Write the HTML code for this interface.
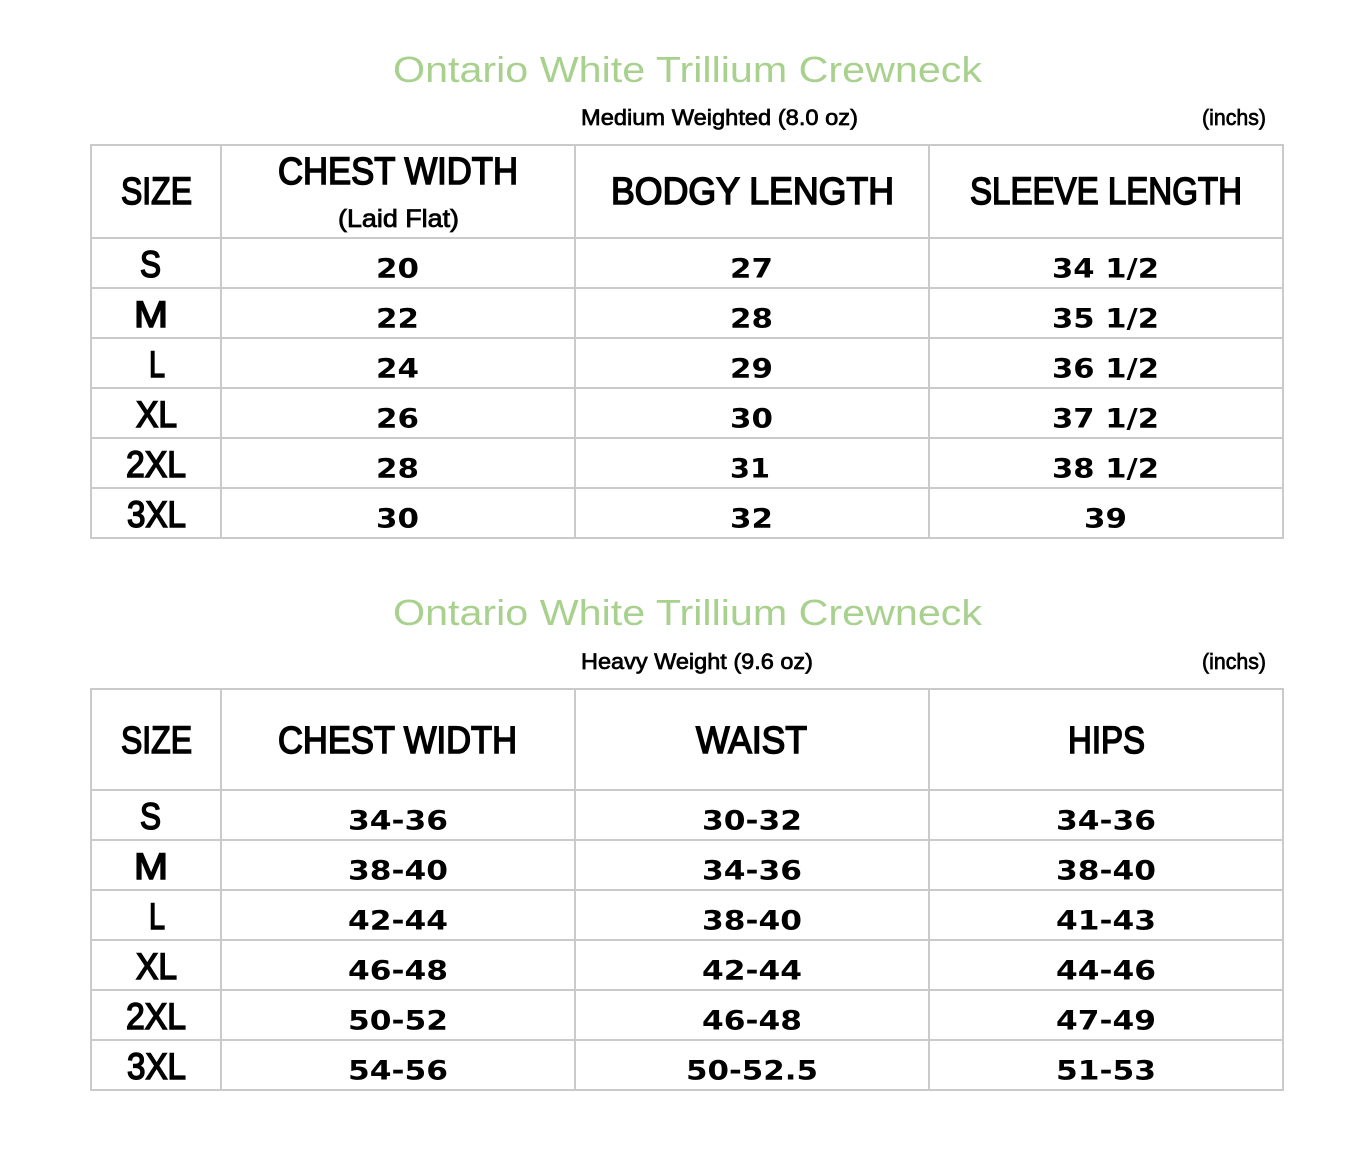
<!DOCTYPE html>
<html>
<head>
<meta charset="utf-8">
<style>
  html, body { margin:0; padding:0; background:#fff; }
  svg { display:block; }
  .title { font-family:"Liberation Sans", sans-serif; font-size:36px; fill:#a9d18e; }
  .sub { font-family:"Liberation Sans", sans-serif; font-size:22px; fill:#000; stroke:#000; stroke-width:0.7px; }
  .hd { font-family:"Liberation Sans", sans-serif; font-size:38px; fill:#000; stroke:#000; stroke-width:1.6px; }
  .hds { font-family:"Liberation Sans", sans-serif; font-size:25px; fill:#000; stroke:#000; stroke-width:0.8px; }
  .sz { font-family:"Liberation Sans", sans-serif; font-size:37px; fill:#000; stroke:#000; stroke-width:1.6px; }
  .num { font-family:"DejaVu Sans", "Liberation Sans", sans-serif; font-weight:bold; font-size:26.5px; fill:#000; }
  .ln { stroke:#cacaca; stroke-width:2; }
</style>
</head>
<body>
<svg width="1372" height="1172" viewBox="0 0 1372 1172" xmlns="http://www.w3.org/2000/svg">
  <rect width="1372" height="1172" fill="#fff"/>

  <!-- ================= TABLE 1 ================= -->
  <text class="title" x="393" y="82" textLength="589" lengthAdjust="spacingAndGlyphs">Ontario White Trillium Crewneck</text>
  <text class="sub" x="581" y="125" textLength="277" lengthAdjust="spacingAndGlyphs">Medium Weighted (8.0 oz)</text>
  <text class="sub" x="1202" y="125" textLength="64" lengthAdjust="spacingAndGlyphs">(inchs)</text>

  <!-- grid -->
  <g class="ln">
    <line x1="90" y1="145" x2="1284" y2="145"/>
    <line x1="90" y1="238" x2="1284" y2="238"/>
    <line x1="90" y1="288" x2="1284" y2="288"/>
    <line x1="90" y1="338" x2="1284" y2="338"/>
    <line x1="90" y1="388" x2="1284" y2="388"/>
    <line x1="90" y1="438" x2="1284" y2="438"/>
    <line x1="90" y1="488" x2="1284" y2="488"/>
    <line x1="90" y1="538" x2="1284" y2="538"/>
    <line x1="91" y1="144" x2="91" y2="539"/>
    <line x1="221" y1="144" x2="221" y2="539"/>
    <line x1="575" y1="144" x2="575" y2="539"/>
    <line x1="929" y1="144" x2="929" y2="539"/>
    <line x1="1283" y1="144" x2="1283" y2="539"/>
  </g>

  <!-- headers -->
  <text class="hd" x="121" y="204" textLength="71" lengthAdjust="spacingAndGlyphs">SIZE</text>
  <text class="hd" x="278" y="184" textLength="240" lengthAdjust="spacingAndGlyphs">CHEST WIDTH</text>
  <text class="hds" x="338" y="227" textLength="121" lengthAdjust="spacingAndGlyphs">(Laid Flat)</text>
  <text class="hd" x="611" y="204" textLength="283" lengthAdjust="spacingAndGlyphs">BODGY LENGTH</text>
  <text class="hd" x="970" y="204" textLength="272" lengthAdjust="spacingAndGlyphs">SLEEVE LENGTH</text>

  <!-- size column -->
  <text class="sz" x="140" y="277" textLength="21" lengthAdjust="spacingAndGlyphs">S</text>
  <text class="sz" x="134" y="327" textLength="34" lengthAdjust="spacingAndGlyphs">M</text>
  <text class="sz" x="149" y="377" textLength="16" lengthAdjust="spacingAndGlyphs">L</text>
  <text class="sz" x="136" y="427" textLength="41" lengthAdjust="spacingAndGlyphs">XL</text>
  <text class="sz" x="126" y="477" textLength="60" lengthAdjust="spacingAndGlyphs">2XL</text>
  <text class="sz" x="127" y="527" textLength="59" lengthAdjust="spacingAndGlyphs">3XL</text>

  <!-- col2 -->
  <text class="num" x="376" y="277.5" textLength="43" lengthAdjust="spacingAndGlyphs">20</text>
  <text class="num" x="376" y="327.5" textLength="43" lengthAdjust="spacingAndGlyphs">22</text>
  <text class="num" x="376" y="377.5" textLength="43" lengthAdjust="spacingAndGlyphs">24</text>
  <text class="num" x="376" y="427.5" textLength="43" lengthAdjust="spacingAndGlyphs">26</text>
  <text class="num" x="376" y="477.5" textLength="43" lengthAdjust="spacingAndGlyphs">28</text>
  <text class="num" x="376" y="527.5" textLength="43" lengthAdjust="spacingAndGlyphs">30</text>
  <!-- col3 -->
  <text class="num" x="730" y="277.5" textLength="43" lengthAdjust="spacingAndGlyphs">27</text>
  <text class="num" x="730" y="327.5" textLength="43" lengthAdjust="spacingAndGlyphs">28</text>
  <text class="num" x="730" y="377.5" textLength="43" lengthAdjust="spacingAndGlyphs">29</text>
  <text class="num" x="730" y="427.5" textLength="43" lengthAdjust="spacingAndGlyphs">30</text>
  <text class="num" x="730" y="477.5" textLength="40" lengthAdjust="spacingAndGlyphs">31</text>
  <text class="num" x="730" y="527.5" textLength="43" lengthAdjust="spacingAndGlyphs">32</text>
  <!-- col4 -->
  <text class="num" x="1052" y="277.5" textLength="107" lengthAdjust="spacingAndGlyphs">34 1/2</text>
  <text class="num" x="1052" y="327.5" textLength="107" lengthAdjust="spacingAndGlyphs">35 1/2</text>
  <text class="num" x="1052" y="377.5" textLength="107" lengthAdjust="spacingAndGlyphs">36 1/2</text>
  <text class="num" x="1052" y="427.5" textLength="107" lengthAdjust="spacingAndGlyphs">37 1/2</text>
  <text class="num" x="1052" y="477.5" textLength="107" lengthAdjust="spacingAndGlyphs">38 1/2</text>
  <text class="num" x="1084" y="527.5" textLength="43" lengthAdjust="spacingAndGlyphs">39</text>

  <!-- ================= TABLE 2 ================= -->
  <text class="title" x="393" y="625" textLength="589" lengthAdjust="spacingAndGlyphs">Ontario White Trillium Crewneck</text>
  <text class="sub" x="581" y="669" textLength="232" lengthAdjust="spacingAndGlyphs">Heavy Weight (9.6 oz)</text>
  <text class="sub" x="1202" y="669" textLength="64" lengthAdjust="spacingAndGlyphs">(inchs)</text>

  <g class="ln">
    <line x1="90" y1="689" x2="1284" y2="689"/>
    <line x1="90" y1="790" x2="1284" y2="790"/>
    <line x1="90" y1="840" x2="1284" y2="840"/>
    <line x1="90" y1="890" x2="1284" y2="890"/>
    <line x1="90" y1="940" x2="1284" y2="940"/>
    <line x1="90" y1="990" x2="1284" y2="990"/>
    <line x1="90" y1="1040" x2="1284" y2="1040"/>
    <line x1="90" y1="1090" x2="1284" y2="1090"/>
    <line x1="91" y1="688" x2="91" y2="1091"/>
    <line x1="221" y1="688" x2="221" y2="1091"/>
    <line x1="575" y1="688" x2="575" y2="1091"/>
    <line x1="929" y1="688" x2="929" y2="1091"/>
    <line x1="1283" y1="688" x2="1283" y2="1091"/>
  </g>

  <text class="hd" x="121" y="753" textLength="71" lengthAdjust="spacingAndGlyphs">SIZE</text>
  <text class="hd" x="278" y="753" textLength="239" lengthAdjust="spacingAndGlyphs">CHEST WIDTH</text>
  <text class="hd" x="696" y="753" textLength="111" lengthAdjust="spacingAndGlyphs">WAIST</text>
  <text class="hd" x="1068" y="753" textLength="77" lengthAdjust="spacingAndGlyphs">HIPS</text>

  <text class="sz" x="140" y="829" textLength="21" lengthAdjust="spacingAndGlyphs">S</text>
  <text class="sz" x="134" y="879" textLength="34" lengthAdjust="spacingAndGlyphs">M</text>
  <text class="sz" x="149" y="929" textLength="16" lengthAdjust="spacingAndGlyphs">L</text>
  <text class="sz" x="136" y="979" textLength="41" lengthAdjust="spacingAndGlyphs">XL</text>
  <text class="sz" x="126" y="1029" textLength="60" lengthAdjust="spacingAndGlyphs">2XL</text>
  <text class="sz" x="127" y="1079" textLength="59" lengthAdjust="spacingAndGlyphs">3XL</text>

  <!-- col2 -->
  <text class="num" x="348" y="829.5" textLength="100" lengthAdjust="spacingAndGlyphs">34-36</text>
  <text class="num" x="348" y="879.5" textLength="100" lengthAdjust="spacingAndGlyphs">38-40</text>
  <text class="num" x="348" y="929.5" textLength="100" lengthAdjust="spacingAndGlyphs">42-44</text>
  <text class="num" x="348" y="979.5" textLength="100" lengthAdjust="spacingAndGlyphs">46-48</text>
  <text class="num" x="348" y="1029.5" textLength="100" lengthAdjust="spacingAndGlyphs">50-52</text>
  <text class="num" x="348" y="1079.5" textLength="100" lengthAdjust="spacingAndGlyphs">54-56</text>
  <!-- col3 -->
  <text class="num" x="702" y="829.5" textLength="100" lengthAdjust="spacingAndGlyphs">30-32</text>
  <text class="num" x="702" y="879.5" textLength="100" lengthAdjust="spacingAndGlyphs">34-36</text>
  <text class="num" x="702" y="929.5" textLength="100" lengthAdjust="spacingAndGlyphs">38-40</text>
  <text class="num" x="702" y="979.5" textLength="100" lengthAdjust="spacingAndGlyphs">42-44</text>
  <text class="num" x="702" y="1029.5" textLength="100" lengthAdjust="spacingAndGlyphs">46-48</text>
  <text class="num" x="686" y="1079.5" textLength="132" lengthAdjust="spacingAndGlyphs">50-52.5</text>
  <!-- col4 -->
  <text class="num" x="1056" y="829.5" textLength="100" lengthAdjust="spacingAndGlyphs">34-36</text>
  <text class="num" x="1056" y="879.5" textLength="100" lengthAdjust="spacingAndGlyphs">38-40</text>
  <text class="num" x="1056" y="929.5" textLength="100" lengthAdjust="spacingAndGlyphs">41-43</text>
  <text class="num" x="1056" y="979.5" textLength="100" lengthAdjust="spacingAndGlyphs">44-46</text>
  <text class="num" x="1056" y="1029.5" textLength="100" lengthAdjust="spacingAndGlyphs">47-49</text>
  <text class="num" x="1056" y="1079.5" textLength="100" lengthAdjust="spacingAndGlyphs">51-53</text>
</svg>
</body>
</html>
